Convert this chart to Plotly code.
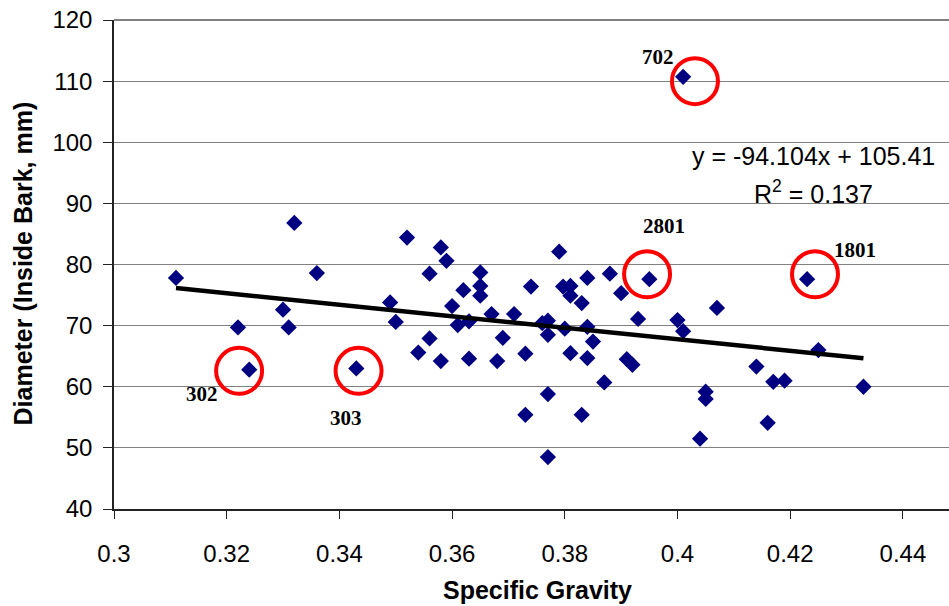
import plotly.graph_objects as go

# ---- data ----
specific_gravity = [0.311, 0.322, 0.324, 0.330, 0.331, 0.332, 0.336, 0.343, 0.349, 0.350,
                    0.352, 0.354, 0.356, 0.356, 0.358, 0.358, 0.359, 0.360, 0.361, 0.362,
                    0.363, 0.363, 0.365, 0.365, 0.365, 0.367, 0.368, 0.369, 0.371, 0.373,
                    0.373, 0.374, 0.376, 0.377, 0.377, 0.377, 0.377, 0.379, 0.3797, 0.381,
                    0.381, 0.380, 0.381, 0.383, 0.383, 0.384, 0.384, 0.384, 0.385, 0.387,
                    0.388, 0.390, 0.391, 0.392, 0.393, 0.395, 0.400, 0.401, 0.401, 0.404,
                    0.405, 0.405, 0.407, 0.414, 0.416, 0.417, 0.419, 0.423, 0.425, 0.433]
diameter = [77.8, 69.7, 62.8, 72.6, 69.7, 86.8, 78.6, 63.0, 73.8, 70.6,
            84.4, 65.6, 78.5, 67.9, 82.8, 64.2, 80.6, 73.2, 70.1, 75.8,
            70.7, 64.6, 78.7, 76.5, 74.9, 71.9, 64.2, 68.0, 71.9, 65.4,
            55.4, 76.4, 70.4, 70.8, 68.5, 58.8, 48.5, 82.1, 76.4, 76.5,
            74.9, 69.5, 65.5, 73.7, 55.4, 77.8, 69.8, 64.7, 67.4, 60.7,
            78.5, 75.3, 64.5, 63.6, 71.1, 77.6, 70.9, 69.1, 110.7, 51.5,
            59.2, 58.0, 72.9, 63.3, 54.1, 60.8, 61.0, 77.6, 66.0, 60.0]

slope = -94.104
intercept = 105.41
r_squared = 0.137

highlight_labels = ["702", "2801", "1801", "302", "303"]
highlight_cx = [0.4031, 0.3946, 0.4244, 0.3222, 0.3434]
highlight_cy = [110.0, 78.4, 78.4, 62.6, 62.6]

x_tick_vals = [0.30, 0.32, 0.34, 0.36, 0.38, 0.40, 0.42, 0.44]
x_tick_text = ["0.3", "0.32", "0.34", "0.36", "0.38", "0.4", "0.42", "0.44"]
y_tick_vals = [40, 50, 60, 70, 80, 90, 100, 110, 120]

# label placements (data coords) for the highlighted trees
label_x = [0.39646, 0.39752, 0.4315, 0.31557, 0.34116]
label_y = [113.9, 86.3, 82.4, 58.8, 54.9]

FONT = "Arial, 'Liberation Sans', sans-serif"
SERIF = "'Times New Roman', 'Liberation Serif', serif"

fig = go.Figure()

fig.add_trace(go.Scatter(
    x=specific_gravity, y=diameter, mode="markers",
    marker=dict(symbol="diamond", size=12.5, color="#000080", line=dict(width=0)),
    showlegend=False, hoverinfo="x+y"))

x_lo, x_hi = min(specific_gravity), max(specific_gravity)
fig.add_trace(go.Scatter(
    x=[x_lo, x_hi], y=[slope * x_lo + intercept, slope * x_hi + intercept],
    mode="lines", line=dict(color="black", width=4.5), showlegend=False, hoverinfo="skip"))

fig.add_trace(go.Scatter(
    x=highlight_cx, y=highlight_cy, mode="markers",
    marker=dict(symbol="circle-open", size=46, color="#FF0000", line=dict(width=4, color="#FF0000")),
    showlegend=False, hoverinfo="skip"))

for lab, lx, ly in zip(highlight_labels, label_x, label_y):
    fig.add_annotation(x=lx, y=ly, text=f"<b>{lab}</b>", showarrow=False,
                       font=dict(family=SERIF, size=21, color="black"),
                       xanchor="center", yanchor="middle")

fig.add_annotation(x=0.42405, y=97.8, text=f"y = {slope}x + {intercept}", showarrow=False,
                   font=dict(family=FONT, size=25, color="black"), xanchor="center", yanchor="middle")
fig.add_annotation(x=0.42405, y=91.8, text=f"R<sup>2</sup> = {r_squared}", showarrow=False,
                   font=dict(family=FONT, size=25, color="black"), xanchor="center", yanchor="middle")

# axis titles
fig.add_annotation(xref="paper", yref="paper", x=-0.109, y=0.502, text="<b>Diameter (Inside Bark, mm)</b>",
                   textangle=-90, showarrow=False, font=dict(family=FONT, size=25, color="black"),
                   xanchor="center", yanchor="middle")
fig.add_annotation(xref="paper", yref="paper", x=0.5066, y=-0.1656, text="<b>Specific Gravity</b>",
                   showarrow=False, font=dict(family=FONT, size=25, color="black"),
                   xanchor="center", yanchor="middle")

# top frame line
fig.add_shape(type="line", xref="paper", yref="paper", x0=0, x1=1, y0=1, y1=1,
              line=dict(color="#808080", width=2))

fig.update_xaxes(range=[0.3, 0.44818], tickvals=x_tick_vals, ticktext=x_tick_text,
                 ticks="outside", ticklen=8, tickcolor="#222", tickwidth=1,
                 showline=True, linecolor="#222", linewidth=1.5, showgrid=False, zeroline=False,
                 tickfont=dict(family=FONT, size=24, color="black"), ticklabelstandoff=14)
fig.update_yaxes(range=[40, 120], tickvals=y_tick_vals,
                 ticks="outside", ticklen=9, tickcolor="#222", tickwidth=1,
                 showline=True, linecolor="#222", linewidth=1.5, showgrid=True,
                 gridcolor="#808080", gridwidth=1, zeroline=False,
                 tickfont=dict(family=FONT, size=24, color="black"), ticklabelstandoff=6)

fig.update_layout(width=949, height=606, margin=dict(l=114, r=0, t=20, b=97),
                  paper_bgcolor="white", plot_bgcolor="white")

fig.write_html("out.html")
